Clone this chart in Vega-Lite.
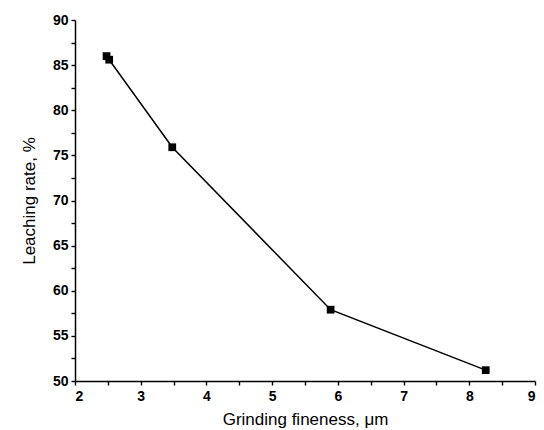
{
  "$schema": "https://vega.github.io/schema/vega-lite/v6.json",
  "width": 460,
  "height": 361,
  "autosize": {"type": "none"},
  "padding": {"left": 75, "top": 20, "right": 9, "bottom": 49},
  "background": "white",
  "config": {
    "view": {"stroke": null},
    "axis": {
      "grid": false,
      "ticks": true,
      "domainColor": "black",
      "domainWidth": 1.5,
      "tickColor": "black",
      "tickWidth": 1.4,
      "labelColor": "black",
      "titleColor": "black",
      "labelFont": "Liberation Sans",
      "titleFont": "Liberation Sans",
      "labelFontWeight": "bold",
      "labelFontSize": 14,
      "titleFontSize": 17,
      "titleFontWeight": "normal"
    }
  },
  "data": {
    "values": [
      {"fineness": 2.48, "rate": 86.0},
      {"fineness": 2.52, "rate": 85.6},
      {"fineness": 3.48, "rate": 75.9},
      {"fineness": 5.89, "rate": 57.9},
      {"fineness": 8.25, "rate": 51.2}
    ]
  },
  "encoding": {
    "x": {
      "field": "fineness",
      "type": "quantitative",
      "scale": {"domain": [2, 9], "nice": false, "zero": false},
      "axis": {
        "values": [2, 2.5, 3, 3.5, 4, 4.5, 5, 5.5, 6, 6.5, 7, 7.5, 8, 8.5, 9],
        "labelExpr": "datum.value % 1 === 0 ? format(datum.value, 'd') : ''",
        "tickSize": 4,
        "labelPadding": 4,
        "title": "Grinding fineness, μm",
        "titlePadding": 8
      }
    },
    "y": {
      "field": "rate",
      "type": "quantitative",
      "scale": {"domain": [50, 90], "nice": false, "zero": false},
      "axis": {
        "values": [50, 52.5, 55, 57.5, 60, 62.5, 65, 67.5, 70, 72.5, 75, 77.5, 80, 82.5, 85, 87.5, 90],
        "labelExpr": "datum.value % 5 === 0 ? format(datum.value, 'd') : ''",
        "tickSize": 4,
        "labelPadding": 3,
        "title": "Leaching rate, %",
        "titlePadding": 14
      }
    }
  },
  "layer": [
    {
      "transform": [{"filter": "datum.fineness > 2.5"}],
      "mark": {"type": "line", "color": "black", "strokeWidth": 1.5}
    },
    {
      "mark": {"type": "square", "color": "black", "size": 60, "opacity": 1, "filled": true}
    }
  ]
}
